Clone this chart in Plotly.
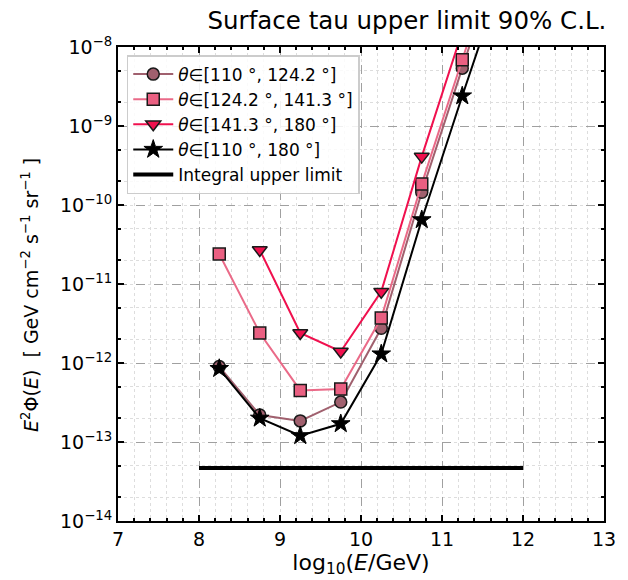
import plotly.graph_objects as go

# ---- data ----
log_e = [8.25, 8.75, 9.25, 9.75, 10.25, 10.75, 11.25, 11.75]
flux_110_124 = [9.0e-13, 2.2e-13, 1.85e-13, 3.2e-13, 2.75e-12, 1.45e-10, 5.4e-9, 2.0e-7]
flux_124_141 = [2.4e-11, 2.4e-12, 4.5e-13, 4.7e-13, 3.7e-12, 1.85e-10, 6.9e-9, 2.5e-7]
log_e_141_180 = [8.75, 9.25, 9.75, 10.25, 10.75, 11.25, 11.75]
flux_141_180 = [2.7e-11, 2.4e-12, 1.4e-12, 8.0e-12, 4.1e-10, 1.6e-8, 6.0e-7]
flux_110_180 = [8.5e-13, 2.0e-13, 1.2e-13, 1.7e-13, 1.3e-12, 6.5e-11, 2.4e-9, 8.0e-8]
integral_x = [8, 12]
integral_y = [4.7e-14, 4.7e-14]

labels = [
    "<i>θ</i>∈[110 °, 124.2 °]",
    "<i>θ</i>∈[124.2 °, 141.3 °]",
    "<i>θ</i>∈[141.3 °, 180 °]",
    "<i>θ</i>∈[110 °, 180 °]",
    "Integral upper limit",
]
x_ticks = [7, 8, 9, 10, 11, 12, 13]
y_exps = [-14, -13, -12, -11, -10, -9, -8]

edge = dict(color="#1a1a1a", width=1.5)
fig = go.Figure()
fig.add_trace(go.Scatter(x=log_e, y=flux_110_124, mode="lines+markers", name=labels[0],
                         line=dict(color="#a0606e", width=2),
                         marker=dict(symbol="circle", size=12, color="#a0606e", line=edge)))
fig.add_trace(go.Scatter(x=log_e, y=flux_124_141, mode="lines+markers", name=labels[1],
                         line=dict(color="#ea6a88", width=2),
                         marker=dict(symbol="square", size=12, color="#ea6082", line=edge)))
fig.add_trace(go.Scatter(x=log_e_141_180, y=flux_141_180, mode="lines+markers", name=labels[2],
                         line=dict(color="#f0104e", width=2),
                         marker=dict(symbol="triangle-down", size=13, color="#f0104e", line=edge)))
fig.add_trace(go.Scatter(x=log_e, y=flux_110_180, mode="lines+markers", name=labels[3],
                         line=dict(color="black", width=2),
                         marker=dict(symbol="star", size=14, color="black", line=dict(color="black", width=1))))
fig.add_trace(go.Scatter(x=integral_x, y=integral_y, mode="lines", name=labels[4],
                         line=dict(color="black", width=4)))

font = "DejaVu Sans, Arial, sans-serif"
fig.update_layout(
    width=620, height=572,
    margin=dict(l=110, r=24, t=39, b=59),
    paper_bgcolor="white", plot_bgcolor="white",
    font=dict(family=font, color="black", size=19),
    title=dict(text="Surface tau upper limit 90% C.L.", x=0.6435, xanchor="center",
               y=0.979, yanchor="middle", font=dict(size=24.5)),
    legend=dict(x=0.018, y=0.983, xanchor="left", yanchor="top",
                bgcolor="rgba(255,255,255,0.85)", bordercolor="#cccccc", borderwidth=1.5,
                font=dict(size=17), tracegroupgap=0, itemwidth=40),
    showlegend=True,
    annotations=[dict(
        text="<i>E</i><sup>2</sup>Φ(<i>E</i>)  [ GeV cm<sup>−2</sup> s<sup>−1</sup> sr<sup>−1</sup> ]",
        textangle=-90, xref="paper", yref="paper", x=-0.181, y=0.477,
        xanchor="center", yanchor="middle", showarrow=False, font=dict(size=19),
    )],
)
fig.update_xaxes(
    range=[7, 13], tickvals=x_ticks, ticktext=[str(v) for v in x_ticks],
    ticks="inside", ticklen=6, tickwidth=1.5, tickcolor="black",
    showline=True, linecolor="black", linewidth=2, mirror="allticks",
    showgrid=True, gridcolor="#a0a0a0", griddash="dash", gridwidth=1,
    zeroline=False,
    minor=dict(dtick=0.2, ticks="inside", ticklen=3, tickcolor="black",
               showgrid=True, gridcolor="#dddddd", griddash="dot", gridwidth=1),
    title=dict(text="log<sub>10</sub>(<i>E</i>/GeV)", font=dict(size=22), standoff=2),
)
fig.update_yaxes(
    type="log", range=[-14, -8],
    tickvals=[10.0 ** e for e in y_exps],
    ticktext=["10<sup>−%d</sup>" % (-e) for e in y_exps],
    ticks="inside", ticklen=6, tickwidth=1.5, tickcolor="black",
    showline=True, linecolor="black", linewidth=2, mirror="allticks",
    showgrid=True, gridcolor="#a0a0a0", griddash="dash", gridwidth=1,
    zeroline=False,
    minor=dict(ticks="inside", ticklen=3, tickcolor="black",
               showgrid=True, gridcolor="#dddddd", griddash="dot", gridwidth=1),
)
fig.write_html("out.html")
